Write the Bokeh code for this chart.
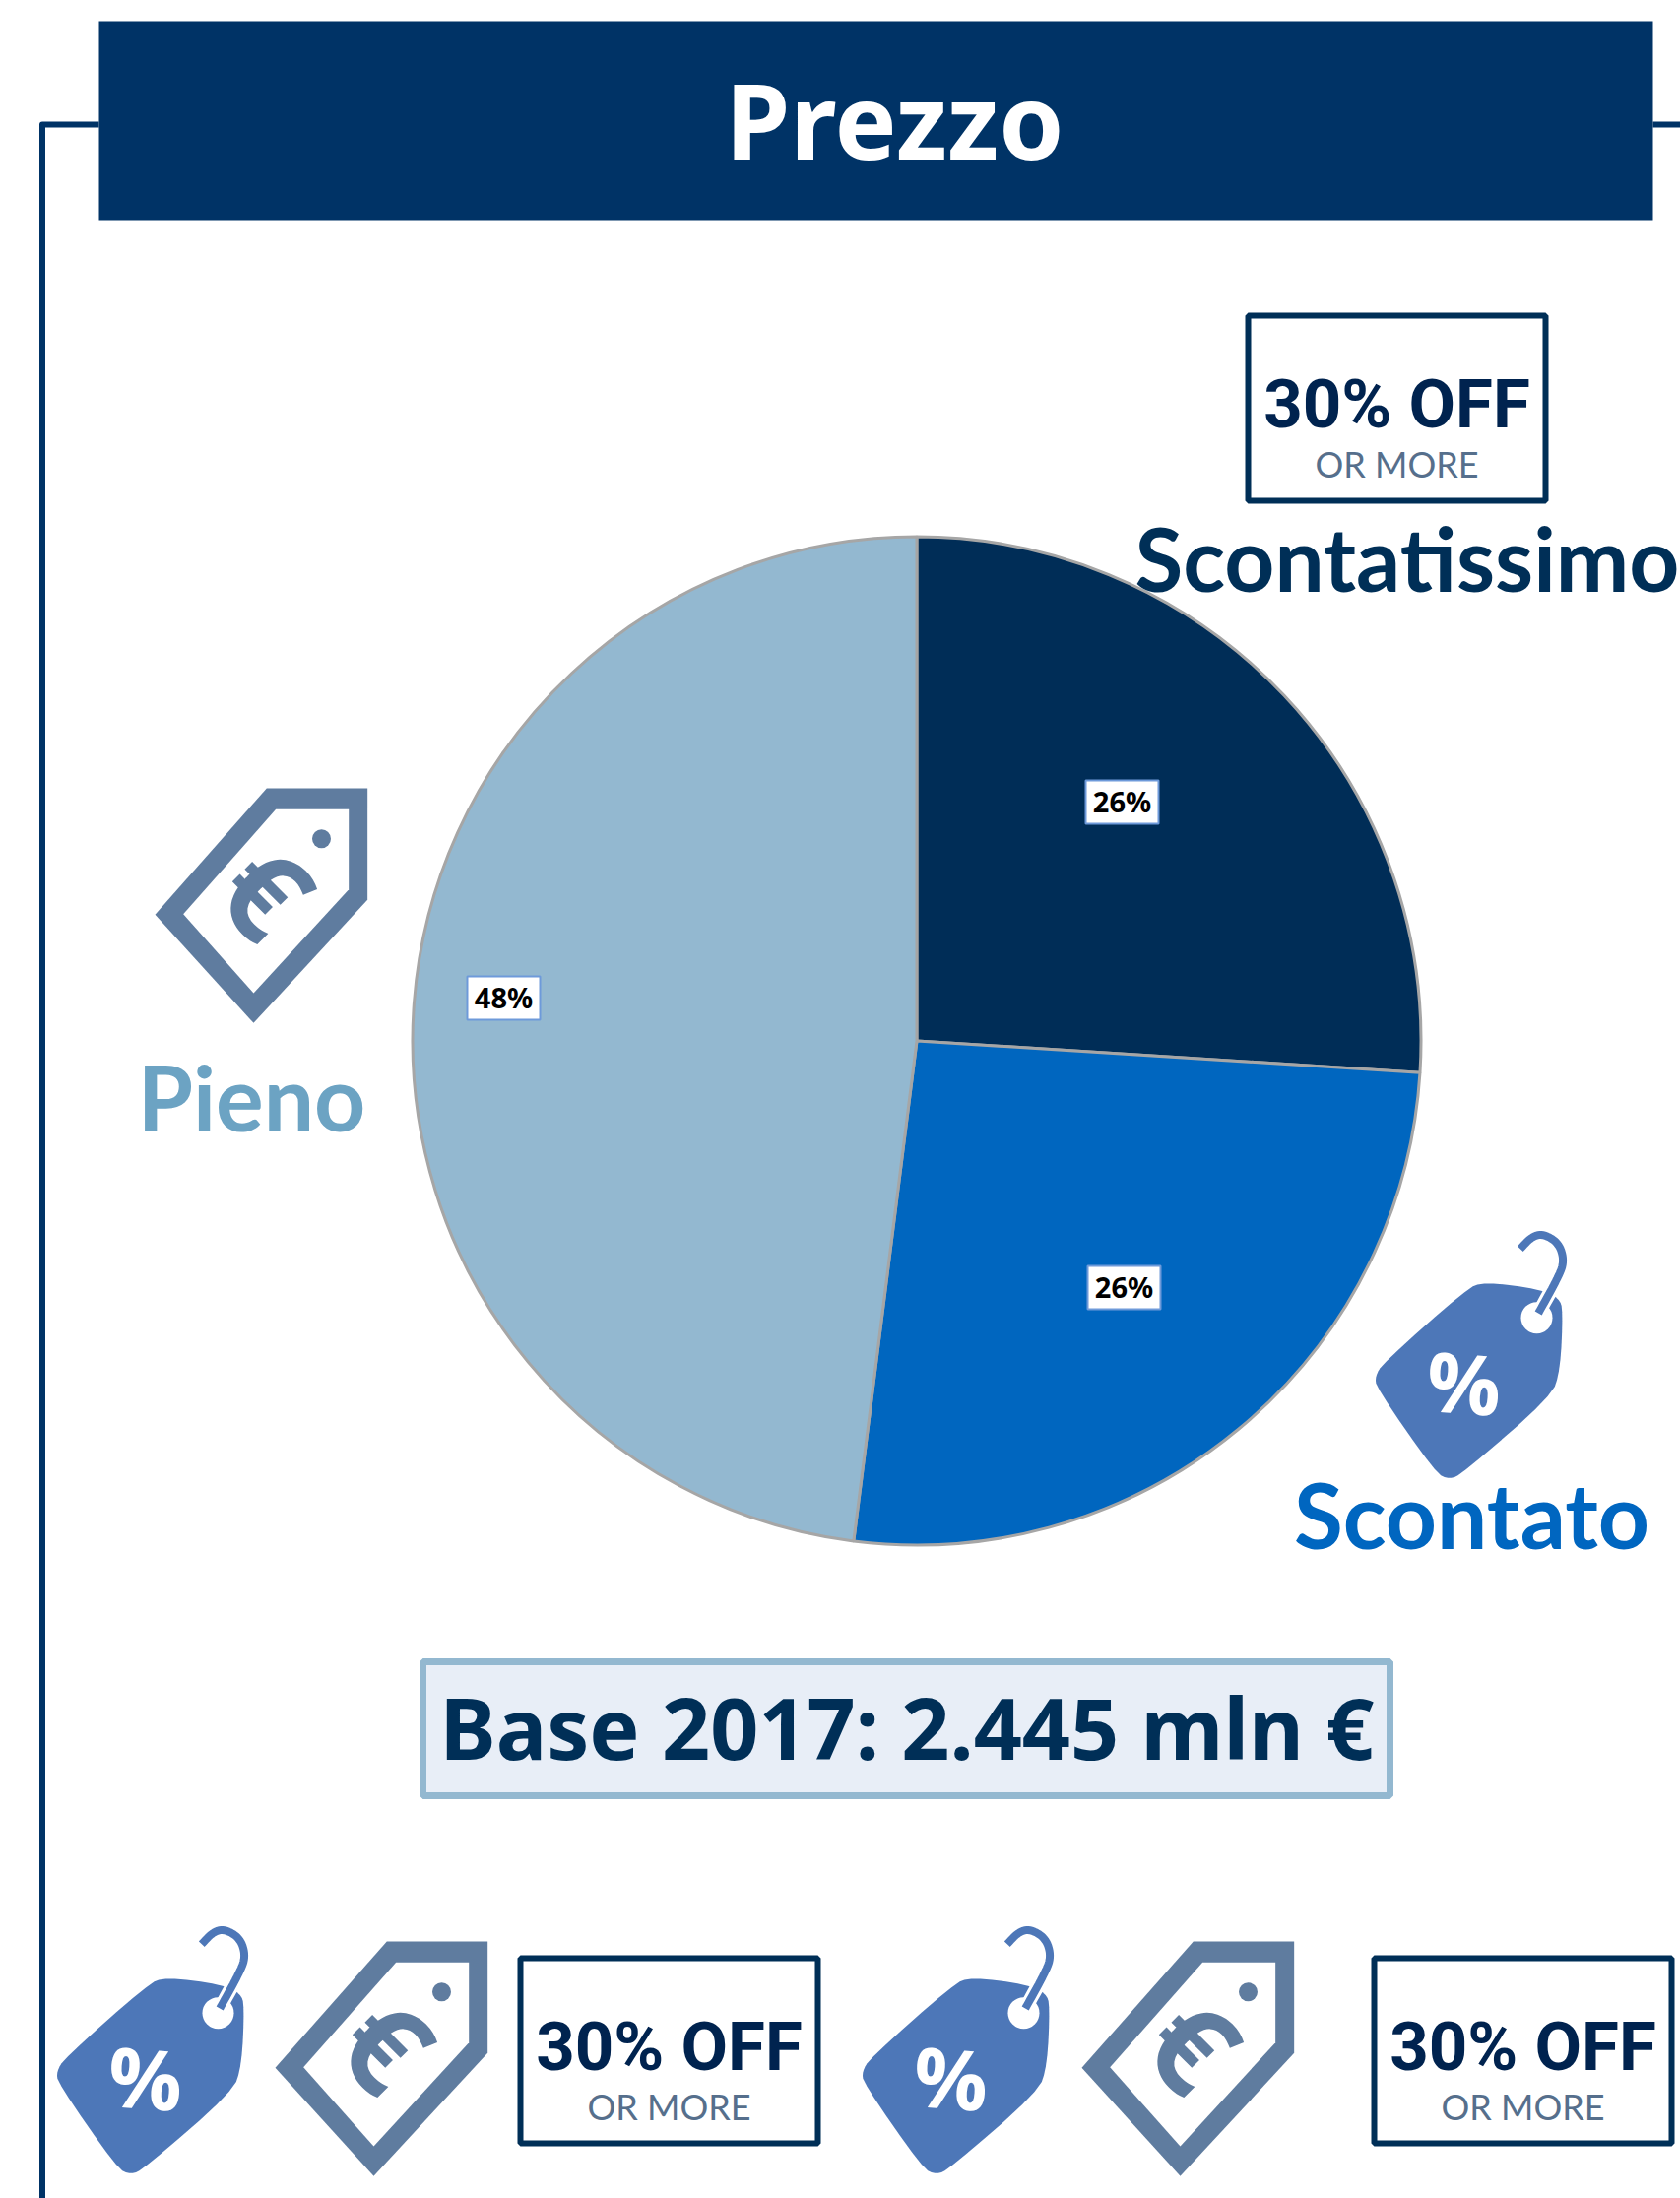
import math
from bokeh.embed import file_html
from bokeh.resources import INLINE
from bokeh.plotting import figure
from bokeh.models import ColumnDataSource, Range1d
from bokeh.core.properties import value

# ---- chart data
title_text = "Prezzo"
categories = ["Scontatissimo", "Scontato", "Pieno"]
shares = [26, 26, 48]
base_text = "Base 2017: 2.445 mln €"

# ---- styling
slice_colors = ["#002D57", "#0066BF", "#93B8D0"]
name_colors = ["#002F57", "#0066C0", "#6CA3C3"]
NAVY = "#003366"
TAG = "#4D77B8"
EURO = "#5F7C9F"
FONT = "Noto Sans"
W, H = 1706, 2232
BASE_SHIFT = 0.40


def Y(y):
    return 2232 - y


p = figure(width=W, height=H, output_backend="svg", toolbar_location=None,
           x_range=Range1d(0, 1706), y_range=Range1d(0, 2232),
           min_border=0, min_border_left=0, min_border_right=0,
           min_border_top=0, min_border_bottom=0)
p.axis.visible = False
p.grid.visible = False
p.outline_line_color = None
p.background_fill_color = "white"
p.border_fill_color = "white"


def text(x, y, s, size, color, bold=True, align="center", font=FONT, angle=0.0):
    a = math.radians(angle)
    k = BASE_SHIFT * size
    p.text([x - math.sin(a) * k], [Y(y) + math.cos(a) * k], text=[s], text_font=value(font),
           text_font_size=f"{size}px", text_color=color,
           text_font_style="bold" if bold else "normal",
           text_align=align, text_baseline="alphabetic", angle=a)


def chaikin(pts, n=2, closed=True):
    for _ in range(n):
        out = []
        m = len(pts)
        rng = range(m) if closed else range(m - 1)
        for i in rng:
            a, b = pts[i], pts[(i + 1) % m]
            out.append((0.75 * a[0] + 0.25 * b[0], 0.75 * a[1] + 0.25 * b[1]))
            out.append((0.25 * a[0] + 0.75 * b[0], 0.25 * a[1] + 0.75 * b[1]))
        if not closed:
            out = [pts[0]] + out + [pts[-1]]
        pts = out
    return pts


# frame lines
p.line([42.5, 42.5, 100], [Y(2232), Y(126), Y(126)], line_color=NAVY, line_width=6, line_join="round")
p.line([1678, 1706], [Y(126), Y(126)], line_color=NAVY, line_width=6)

# title bar
p.quad(left=[100], right=[1678], top=[Y(21)], bottom=[Y(223)], fill_color=NAVY, line_color=None)
text(908, 163, title_text, 106, "white")

# pie
CX, CY, R = 930.5, 1056.5, 512
acc = 0.0
starts, ends = [], []
for v in shares:
    starts.append(math.pi / 2 - acc / sum(shares) * 2 * math.pi)
    acc += v
    ends.append(math.pi / 2 - acc / sum(shares) * 2 * math.pi)
src = ColumnDataSource(dict(start=starts, end=ends, color=slice_colors, cat=categories))
p.wedge(x=CX, y=Y(CY), radius=R, start_angle="start", end_angle="end", direction="clock",
        fill_color="color", line_color="#A6A6A6", line_width=3, source=src)

# data labels
label_centres = [(1139, 814), (1141, 1307), (511, 1013)]
for (lx, ly), v in zip(label_centres, shares):
    p.quad(left=[lx - 37], right=[lx + 37], top=[Y(ly - 22)], bottom=[Y(ly + 22)],
           fill_color="white", line_color="#6E9ADA", line_width=2)
    text(lx, ly + 11, f"{v}%", 29, "black")


# euro tag icon
def euro_icon(x0, y0):
    def tx(pts):
        return [x0 + (a - 80) / 3 for a, b in pts], [Y(y0 + (b - 60) / 3) for a, b in pts]
    ox, oy = tx([(420, 60), (727, 60), (727, 400), (380, 775), (80, 445)])
    p.patch(ox, oy, fill_color=EURO, line_color=None)
    ix, iy = tx([(448, 124), (670, 124), (670, 368), (380, 684), (166, 443)])
    p.patch(ix, iy, fill_color="white", line_color=None)
    p.circle([x0 + (587 - 80) / 3], [Y(y0 + (214 - 60) / 3)], radius=9.5, fill_color=EURO, line_color=None)
    text(x0 + 79, y0 + 139, "€", 125, EURO, angle=-45)


# percent tag icon
def tag_icon(x0, y0):
    def tx(pts):
        return [x0 + (a - 288) / 3 for a, b in pts], [Y(y0 + (b - 62) / 3) for a, b in pts]
    body = [(620, 212), (790, 235), (848, 262), (860, 300), (852, 480), (825, 562), (555, 795),
            (515, 815), (472, 795), (292, 535), (288, 500), (312, 460), (565, 235)]
    bx, by = tx(chaikin(body, 2))
    p.patch(bx, by, fill_color=TAG, line_color=None)
    hx, hy = tx([(780, 322)])
    p.circle(hx, hy, radius=16, fill_color="white", line_color=None)
    hook = chaikin([(785, 308), (845, 200), (864, 150), (848, 95), (800, 66), (765, 75), (730, 112)], 3, closed=False)
    kx, ky = tx(hook[:len(hook) // 3])
    p.line(kx, ky, line_color="white", line_width=14)
    kx, ky = tx(hook)
    p.line(kx, ky, line_color=TAG, line_width=8)
    px_, py_ = tx([(552, 618)])
    text(px_[0], Y(py_[0]), "%", 84, "white", font="Open Sans", angle=-4)


# 30% off box
def off_box(x0, y0):
    p.quad(left=[x0 + 3], right=[x0 + 305], top=[Y(y0 + 3)], bottom=[Y(y0 + 191)],
           fill_color="white", line_color="#002F57", line_width=6)
    text(x0 + 154, y0 + 121, "30% OFF", 69, "#00234F", font="Roboto")
    text(x0 + 154, y0 + 168, "OR MORE", 36, "#566F8C", bold=False, font="Lato")


euro_icon(157, 800)
tag_icon(1396, 1251)
off_box(1264, 317)

# segment names
text(1152, 602, categories[0], 89, name_colors[0], align="left", font="Lato")
text(1494, 1573, categories[1], 91, name_colors[1], font="Lato")
text(255, 1149, categories[2], 91, name_colors[2], font="Lato")

# base box
p.quad(left=[429], right=[1411], top=[Y(1687)], bottom=[Y(1823)], fill_color="#E8EEF7",
       line_color="#93B8D0", line_width=7)
text(920.5, 1787, base_text, 86, "#002F57")

# bottom row
tag_icon(57, 1957)
euro_icon(279, 1971)
off_box(525, 1985)
tag_icon(875, 1957)
euro_icon(1098, 1971)
off_box(1392, 1985)

open("out.html", "w").write(file_html(p, INLINE))
